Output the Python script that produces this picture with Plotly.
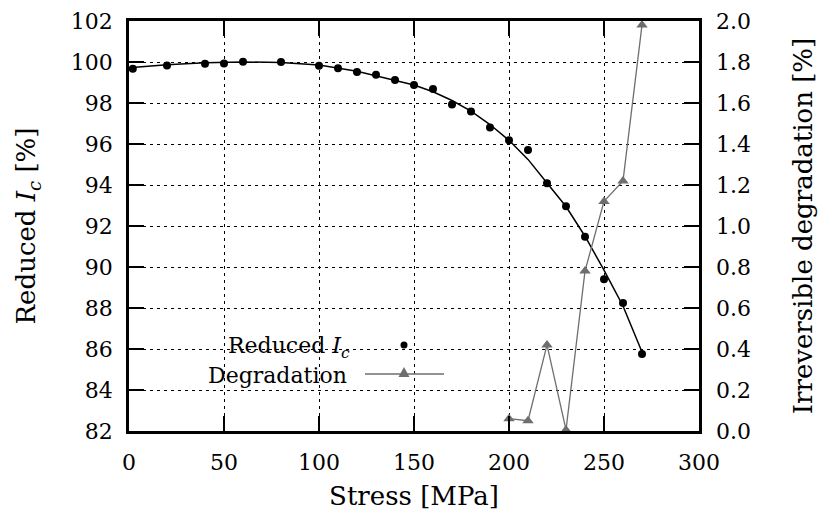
import plotly.graph_objects as go

# Reduced Ic measurements
stress = [2, 20, 40, 50, 60, 80, 100, 110, 120, 130, 140, 150, 160, 170, 180, 190,
          200, 210, 220, 230, 240, 250, 260, 270]
reduced_ic = [99.67, 99.83, 99.92, 99.93, 100.01, 100.0, 99.82, 99.70, 99.51, 99.38,
              99.12, 98.88, 98.68, 97.93, 97.59, 96.81, 96.18, 95.71, 94.08, 92.96,
              91.48, 89.40, 88.24, 85.76]

# Fitted curve
fit_x = [0, 20, 40, 60, 80, 100, 120, 140, 150, 160, 170, 180, 190, 200, 210, 220,
         230, 240, 250, 260, 270]
fit_y = [99.72, 99.86, 99.96, 100.0, 99.98, 99.85, 99.55, 99.12, 98.88, 98.55,
         98.12, 97.6, 96.95, 96.18, 95.25, 94.1, 92.95, 91.5, 89.85, 88.1, 85.85]

# Irreversible degradation
deg_x = [200, 210, 220, 230, 240, 250, 260, 270]
deg_y = [0.06, 0.05, 0.42, 0.005, 0.78, 1.12, 1.22, 1.98]

GRAY = "#6e6e6e"
FONT = "'DejaVu Serif', 'Liberation Serif', 'Times New Roman', serif"
FS = 22

fig = go.Figure()
fig.add_trace(go.Scatter(x=fit_x, y=fit_y, mode="lines",
                         line=dict(color="black", width=1.5), hoverinfo="skip"))
fig.add_trace(go.Scatter(x=stress, y=reduced_ic, mode="markers", name="Reduced Ic",
                         marker=dict(color="black", size=8), cliponaxis=False))
fig.add_trace(go.Scatter(x=deg_x, y=deg_y, mode="lines+markers", name="Degradation",
                         yaxis="y2", line=dict(color=GRAY, width=1.3),
                         marker=dict(symbol="triangle-up", size=10, color=GRAY),
                         cliponaxis=False))

L, R, T, B, W, H = 129, 120, 21, 91, 819, 522
pw, ph = W - L - R, H - T - B


def px(x):
    return (x - L) / pw


def py(y):
    return (H - B - y) / ph


shapes = [
    # legend background
    dict(type="rect", xref="paper", yref="paper", x0=px(130), x1=px(460),
         y0=py(386), y1=py(330), fillcolor="white", line=dict(width=0), layer="between"),
    # legend sample: dot
    dict(type="circle", xref="paper", yref="paper", x0=px(400.5), x1=px(407.5),
         y0=py(348.5), y1=py(341.5), fillcolor="black", line=dict(width=0), layer="above"),
    # legend sample: line
    dict(type="line", xref="paper", yref="paper", x0=px(365), x1=px(444),
         y0=py(374), y1=py(374), line=dict(color=GRAY, width=1.3), layer="above"),
    # legend sample: triangle
    dict(type="path", xref="paper", yref="paper",
         path=f"M {px(398.5)} {py(377)} L {px(409.5)} {py(377)} L {px(404)} {py(367)} Z",
         fillcolor=GRAY, line=dict(width=0), layer="above"),
]

annotations = [
    dict(text="Reduced <i>I<sub>c</sub></i>", xref="paper", yref="paper",
         x=px(352), y=py(347), xanchor="right", yanchor="middle", showarrow=False,
         font=dict(family=FONT, size=FS, color="black")),
    dict(text="Degradation", xref="paper", yref="paper",
         x=px(349), y=py(375), xanchor="right", yanchor="middle", showarrow=False,
         font=dict(family=FONT, size=FS, color="black")),
]

axis_common = dict(ticks="inside", ticklen=15, tickwidth=2, tickcolor="black",
                   zeroline=False, automargin=False,
                   tickfont=dict(family=FONT, size=FS, color="black"))

fig.update_layout(
    width=W, height=H,
    margin=dict(l=L, r=R, t=T, b=B),
    paper_bgcolor="white", plot_bgcolor="white",
    font=dict(family=FONT, size=FS, color="black"),
    showlegend=False,
    shapes=shapes,
    annotations=annotations,
    xaxis=dict(range=[0, 300], dtick=50, tick0=0, showline=True, linewidth=2.5,
               linecolor="black", mirror="ticks", showgrid=True, gridcolor="black",
               gridwidth=1, griddash="3px,4px", ticklabelstandoff=10,
               title=dict(text="Stress [MPa]", standoff=13), **axis_common),
    yaxis=dict(range=[82, 102], dtick=2, tick0=82, showline=True, linewidth=2.5,
               linecolor="black", mirror=True, showgrid=True, gridcolor="black",
               gridwidth=1, griddash="3px,4px", ticklabelstandoff=9,
               title=dict(text="Reduced <i>I<sub>c</sub></i> [%]", standoff=28),
               **axis_common),
    yaxis2=dict(range=[0, 2], dtick=0.2, tick0=0, overlaying="y", side="right",
                tickformat=".1f", showgrid=False, showline=False,
                ticklabelstandoff=16,
                title=dict(text="Irreversible degradation [%]", standoff=43),
                **axis_common),
)

fig.write_html("out.html")
